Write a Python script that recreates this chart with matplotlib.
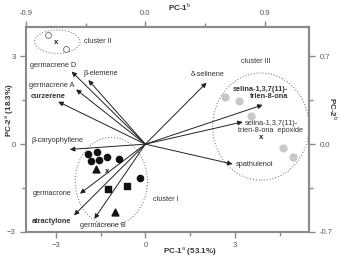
import matplotlib
matplotlib.use('Agg')
import matplotlib.pyplot as plt
from matplotlib.patches import Ellipse
from matplotlib.ticker import FixedLocator

plt.rcParams['font.family'] = ['Liberation Sans', 'DejaVu Sans']
plt.rcParams['mathtext.fontset'] = 'custom'
plt.rcParams['mathtext.rm'] = 'Liberation Sans'
plt.rcParams['mathtext.bf'] = 'Liberation Sans:bold'

# loadings (PC-1, PC-2)
comp_names = ['germacrene D', '\u03b2-elemene', 'germacrene A', 'curzerene',
              '\u03b2-caryophyllene', 'germacrone', 'atractylone', 'germacrene B',
              '\u03b4-selinene', 'selina-1,3,7(11)-\ntrien-8-ona',
              'selina-1,3,7(11)-\ntrien-8-ona  epoxide', 'spathulenol']
load_x = [-2.47, -1.91, -2.32, -2.92, -2.53, -2.19, -2.39, -1.71, 2.05, 3.93, 3.26, 2.92]
load_y = [2.48, 2.19, 1.87, 1.45, -0.18, -1.69, -2.43, -2.55, 2.10, 1.34, 0.76, -0.68]
bold_names = ['curzerene', 'atractylone', 'selina-1,3,7(11)-\ntrien-8-ona']

# samples (scores)
c1_circ_x = [-1.91, -1.63, -1.29, -1.83, -1.54, -0.87, -0.17]
c1_circ_y = [-0.34, -0.26, -0.43, -0.58, -0.55, -0.51, -1.14]
c1_tri_x = [-1.65, -1.01]
c1_tri_y = [-0.86, -2.32]
c1_sq_x = [-1.24, -0.62]
c1_sq_y = [-1.52, -1.43]
c2_x = [-3.26, -2.66]
c2_y = [3.73, 3.24]
c3_x = [2.67, 3.14, 3.54, 4.60, 4.94]
c3_y = [1.60, 1.47, 0.96, -0.13, -0.43]
centroid_x = [-1.27, -3.0, 3.87]
centroid_y = [-0.95, 3.47, 0.22]

# label placement (data coords)
lab_pos = {
    'germacrene D': (-3.1, 2.67), '\u03b2-elemene': (-1.5, 2.40),
    'germacrene A': (-3.13, 1.99), 'curzerene': (-3.27, 1.64),
    '\u03b2-caryophyllene': (-2.96, 0.11), 'germacrone': (-3.13, -1.68),
    'atractylone': (-3.13, -2.63), 'germacrene B': (-1.41, -2.77),
    '\u03b4-selinene': (2.1, 2.38), 'selina-1,3,7(11)-\ntrien-8-ona': (3.85, 1.75),
    'selina-1,3,7(11)-\ntrien-8-ona  epoxide': (4.21, 0.58), 'spathulenol': (3.65, -0.70),
}

txt = '#333333'
spine = '#8a8a8a'
fs = 5.3
tfs = 5.5

fig = plt.figure(figsize=(3.41, 2.6), dpi=100)
ax = fig.add_axes([0.0762, 0.1077, 0.8314, 0.7883])
ax.set_xlim(-4, 5.5)
ax.set_ylim(-3, 4)

# clusters
ax.add_patch(Ellipse((-1.14, -1.27), 2.42, 3.0, fill=False, ls=(0, (1, 2)), lw=0.7, ec='#666666'))
ax.add_patch(Ellipse((-2.95, 3.5), 1.52, 0.80, fill=False, ls=(0, (1, 2)), lw=0.7, ec='#666666'))
ax.add_patch(Ellipse((3.87, 0.6), 3.23, 3.66, fill=False, ls=(0, (1, 2)), lw=0.7, ec='#666666'))

# arrows
for n, x, y in zip(comp_names, load_x, load_y):
    ax.annotate('', xy=(x, y), xytext=(0, 0),
                arrowprops=dict(arrowstyle='-|>', color='#222222', lw=0.7,
                                mutation_scale=7, shrinkA=0, shrinkB=0))
    lx, ly = lab_pos[n]
    bold = n in bold_names
    ax.text(lx, ly, n, fontsize=fs, color=txt, ha='center', va='center',
            fontweight='bold' if bold else 'normal', linespacing=1.0,
            multialignment='right' if bold else 'center')

ax.scatter(c1_circ_x, c1_circ_y, s=20, c='#111111', marker='o', zorder=3)
ax.scatter(c1_tri_x, c1_tri_y, s=24, c='#111111', marker='^', zorder=3)
ax.scatter(c1_sq_x, c1_sq_y, s=20, c='#111111', marker='s', zorder=3)
ax.scatter(c2_x, c2_y, s=18, facecolors='white', edgecolors='#666666', lw=0.6, zorder=3)
ax.scatter(c3_x, c3_y, s=24, c='#c8c8c8', zorder=3)
for x, y in zip(centroid_x, centroid_y):
    ax.text(x, y, 'x', fontsize=fs + 0.5, fontweight='bold', color='#222222', ha='center', va='center')

ax.text(0.67, -1.88, 'cluster I', fontsize=fs, color=txt, ha='center', va='center')
ax.text(-1.58, 3.5, 'cluster II', fontsize=fs, color=txt, ha='center', va='center')
ax.text(3.70, 2.82, 'cluster III', fontsize=fs, color=txt, ha='center', va='center')

# axes styling
for s in ax.spines.values():
    s.set_color(spine)
    s.set_linewidth(1.5)
ax.xaxis.set_major_locator(FixedLocator([-3, 0, 3]))
ax.xaxis.set_minor_locator(FixedLocator([-1.5, 1.5, 4.5]))
ax.yaxis.set_major_locator(FixedLocator([-3, 0, 3]))
ax.yaxis.set_minor_locator(FixedLocator([-1.5, 1.5]))
ax.tick_params(which='both', colors=spine, labelcolor='#555555', labelsize=tfs, width=1)
ax.tick_params(which='major', length=4)
ax.tick_params(which='minor', length=3)

top = ax.secondary_xaxis('top', functions=(lambda v: v * 0.225, lambda v: v / 0.225))
top.xaxis.set_major_locator(FixedLocator([-0.9, 0.0, 0.9]))
top.xaxis.set_minor_locator(FixedLocator([-0.45, 0.45]))
top.xaxis.set_major_formatter(plt.FuncFormatter(lambda v, p: '%.1f' % v))
right = ax.secondary_yaxis('right', functions=(lambda v: v * 0.7 / 3, lambda v: v * 3 / 0.7))
right.yaxis.set_major_locator(FixedLocator([-0.7, 0.0, 0.7]))
right.yaxis.set_minor_locator(FixedLocator([-0.35, 0.35]))
right.yaxis.set_major_formatter(plt.FuncFormatter(lambda v, p: '%.1f' % v))
for sec in (top, right):
    for s in sec.spines.values():
        s.set_color(spine)
        s.set_linewidth(1.5)
    sec.tick_params(which='both', colors=spine, labelcolor='#555555', labelsize=tfs, width=1)
    sec.tick_params(which='major', length=4)
    sec.tick_params(which='minor', length=3)

fig.text(190 / 341, 1 - 252 / 260, 'PC-1$^{\\rm a}$ (53.1%)', fontsize=5.8, fontweight='bold',
         color=txt, ha='center', va='center')
fig.text(180 / 341, 1 - 7 / 260, 'PC-1$^{\\rm b}$', fontsize=5.8, fontweight='bold',
         color=txt, ha='center', va='center')
fig.text(10 / 341, 1 - 110 / 260, 'PC-2$^{\\rm a}$ (18.3%)', fontsize=5.8, fontweight='bold',
         color=txt, ha='center', va='center', rotation=90)
fig.text(333 / 341, 1 - 109 / 260, 'PC-2$^{\\rm b}$', fontsize=5.8, fontweight='bold',
         color=txt, ha='center', va='center', rotation=270)

fig.savefig('out.png', dpi=100)
